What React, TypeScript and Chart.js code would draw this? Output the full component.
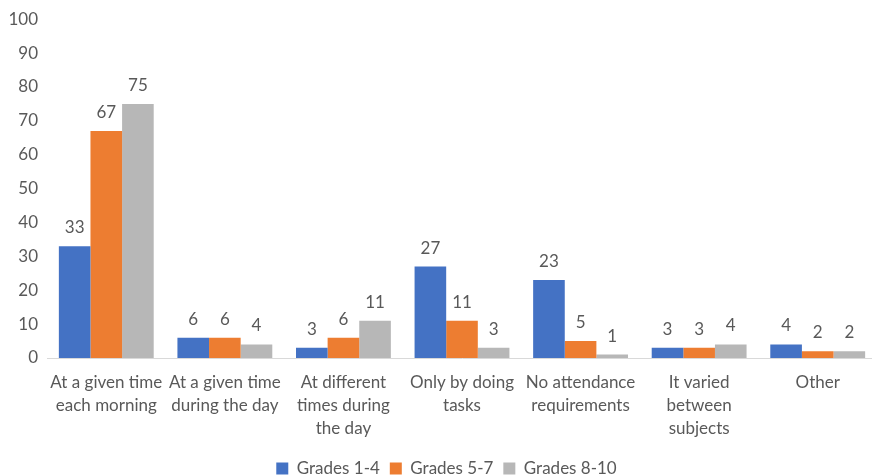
import React, { useEffect, useRef } from "react";
import { Chart, registerables } from "chart.js";

Chart.register(...registerables);

const categories: string[][] = [
  ["At a given time", "each morning"],
  ["At a given time", "during the day"],
  ["At different", "times during", "the day"],
  ["Only by doing", "tasks"],
  ["No attendance", "requirements"],
  ["It varied", "between", "subjects"],
  ["Other"],
];
const grades14 = [33, 6, 3, 27, 23, 3, 4];
const grades57 = [67, 6, 6, 11, 5, 3, 2];
const grades810 = [75, 4, 11, 3, 1, 4, 2];
const seriesNames = ["Grades 1-4", "Grades 5-7", "Grades 8-10"];
const seriesColors = ["#4472C4", "#ED7D31", "#B7B7B7"];

const FONT = "Lato, 'Open Sans', sans-serif";
const TEXT = "#595959";
const FS = 17;

const valueLabels = {
  id: "valueLabels",
  afterDatasetsDraw(chart: any) {
    const ctx = chart.ctx;
    ctx.save();
    ctx.font = `${FS}px ${FONT}`;
    ctx.fillStyle = TEXT;
    ctx.textAlign = "center";
    ctx.textBaseline = "bottom";
    chart.data.datasets.forEach((ds: any, i: number) => {
      const meta = chart.getDatasetMeta(i);
      meta.data.forEach((el: any, j: number) => {
        ctx.fillText(String(ds.data[j]), el.x, el.y - 10);
      });
    });
    ctx.restore();
  },
};

const legendTweak = {
  id: "legendTweak",
  afterInit(chart: any) {
    const lg = chart.legend;
    if (!lg) return;
    const orig = lg.fit.bind(lg);
    lg.fit = function () {
      orig();
      this.height = 25;
    };
  },
  afterLayout(chart: any) {
    const lg = chart.legend;
    if (!lg) return;
    lg.left += 8;
    lg.right += 8;
  },
};

export default function App() {
  const ref = useRef<HTMLCanvasElement>(null);
  useEffect(() => {
    const data = [grades14, grades57, grades810];
    const chart = new Chart(ref.current!, {
      type: "bar",
      data: {
        labels: categories,
        datasets: data.map((d, i) => ({
          label: seriesNames[i],
          data: d,
          backgroundColor: seriesColors[i],
          borderWidth: 0,
          barPercentage: 1,
          categoryPercentage: 0.8,
        })),
      },
      options: {
        animation: false,
        responsive: true,
        maintainAspectRatio: false,
        layout: { padding: { top: 9, right: 0, left: 0, bottom: 0 } },
        plugins: {
          tooltip: { enabled: false },
          legend: {
            position: "bottom",
            labels: {
              font: { family: FONT, size: FS },
              color: TEXT,
              boxWidth: 12,
              boxHeight: 12,
              padding: 10,
            },
          },
        },
        scales: {
          y: {
            min: 0,
            max: 100,
            ticks: {
              stepSize: 10,
              font: { family: FONT, size: FS },
              color: TEXT,
              padding: 9,
            },
            grid: { display: false, drawTicks: false },
            border: { display: false },
            afterFit(scale: any) {
              scale.width = 47;
            },
          },
          x: {
            ticks: {
              font: { family: FONT, size: FS, lineHeight: 1.35 },
              color: TEXT,
              padding: 13,
              maxRotation: 0,
              autoSkip: false,
            },
            grid: { display: false, drawTicks: false },
            border: { display: true, color: "#D9D9D9", width: 1 },
            afterFit(scale: any) {
              scale.height = 92;
            },
          },
        },
      },
      plugins: [legendTweak, valueLabels],
    });
    return () => chart.destroy();
  }, []);
  return (
    <div style={{ position: "absolute", left: 0, top: 0, width: 872, height: 475, overflow: "hidden" }}>
      <div style={{ position: "relative", width: 877, height: 475 }}>
        <canvas ref={ref} />
      </div>
    </div>
  );
}
